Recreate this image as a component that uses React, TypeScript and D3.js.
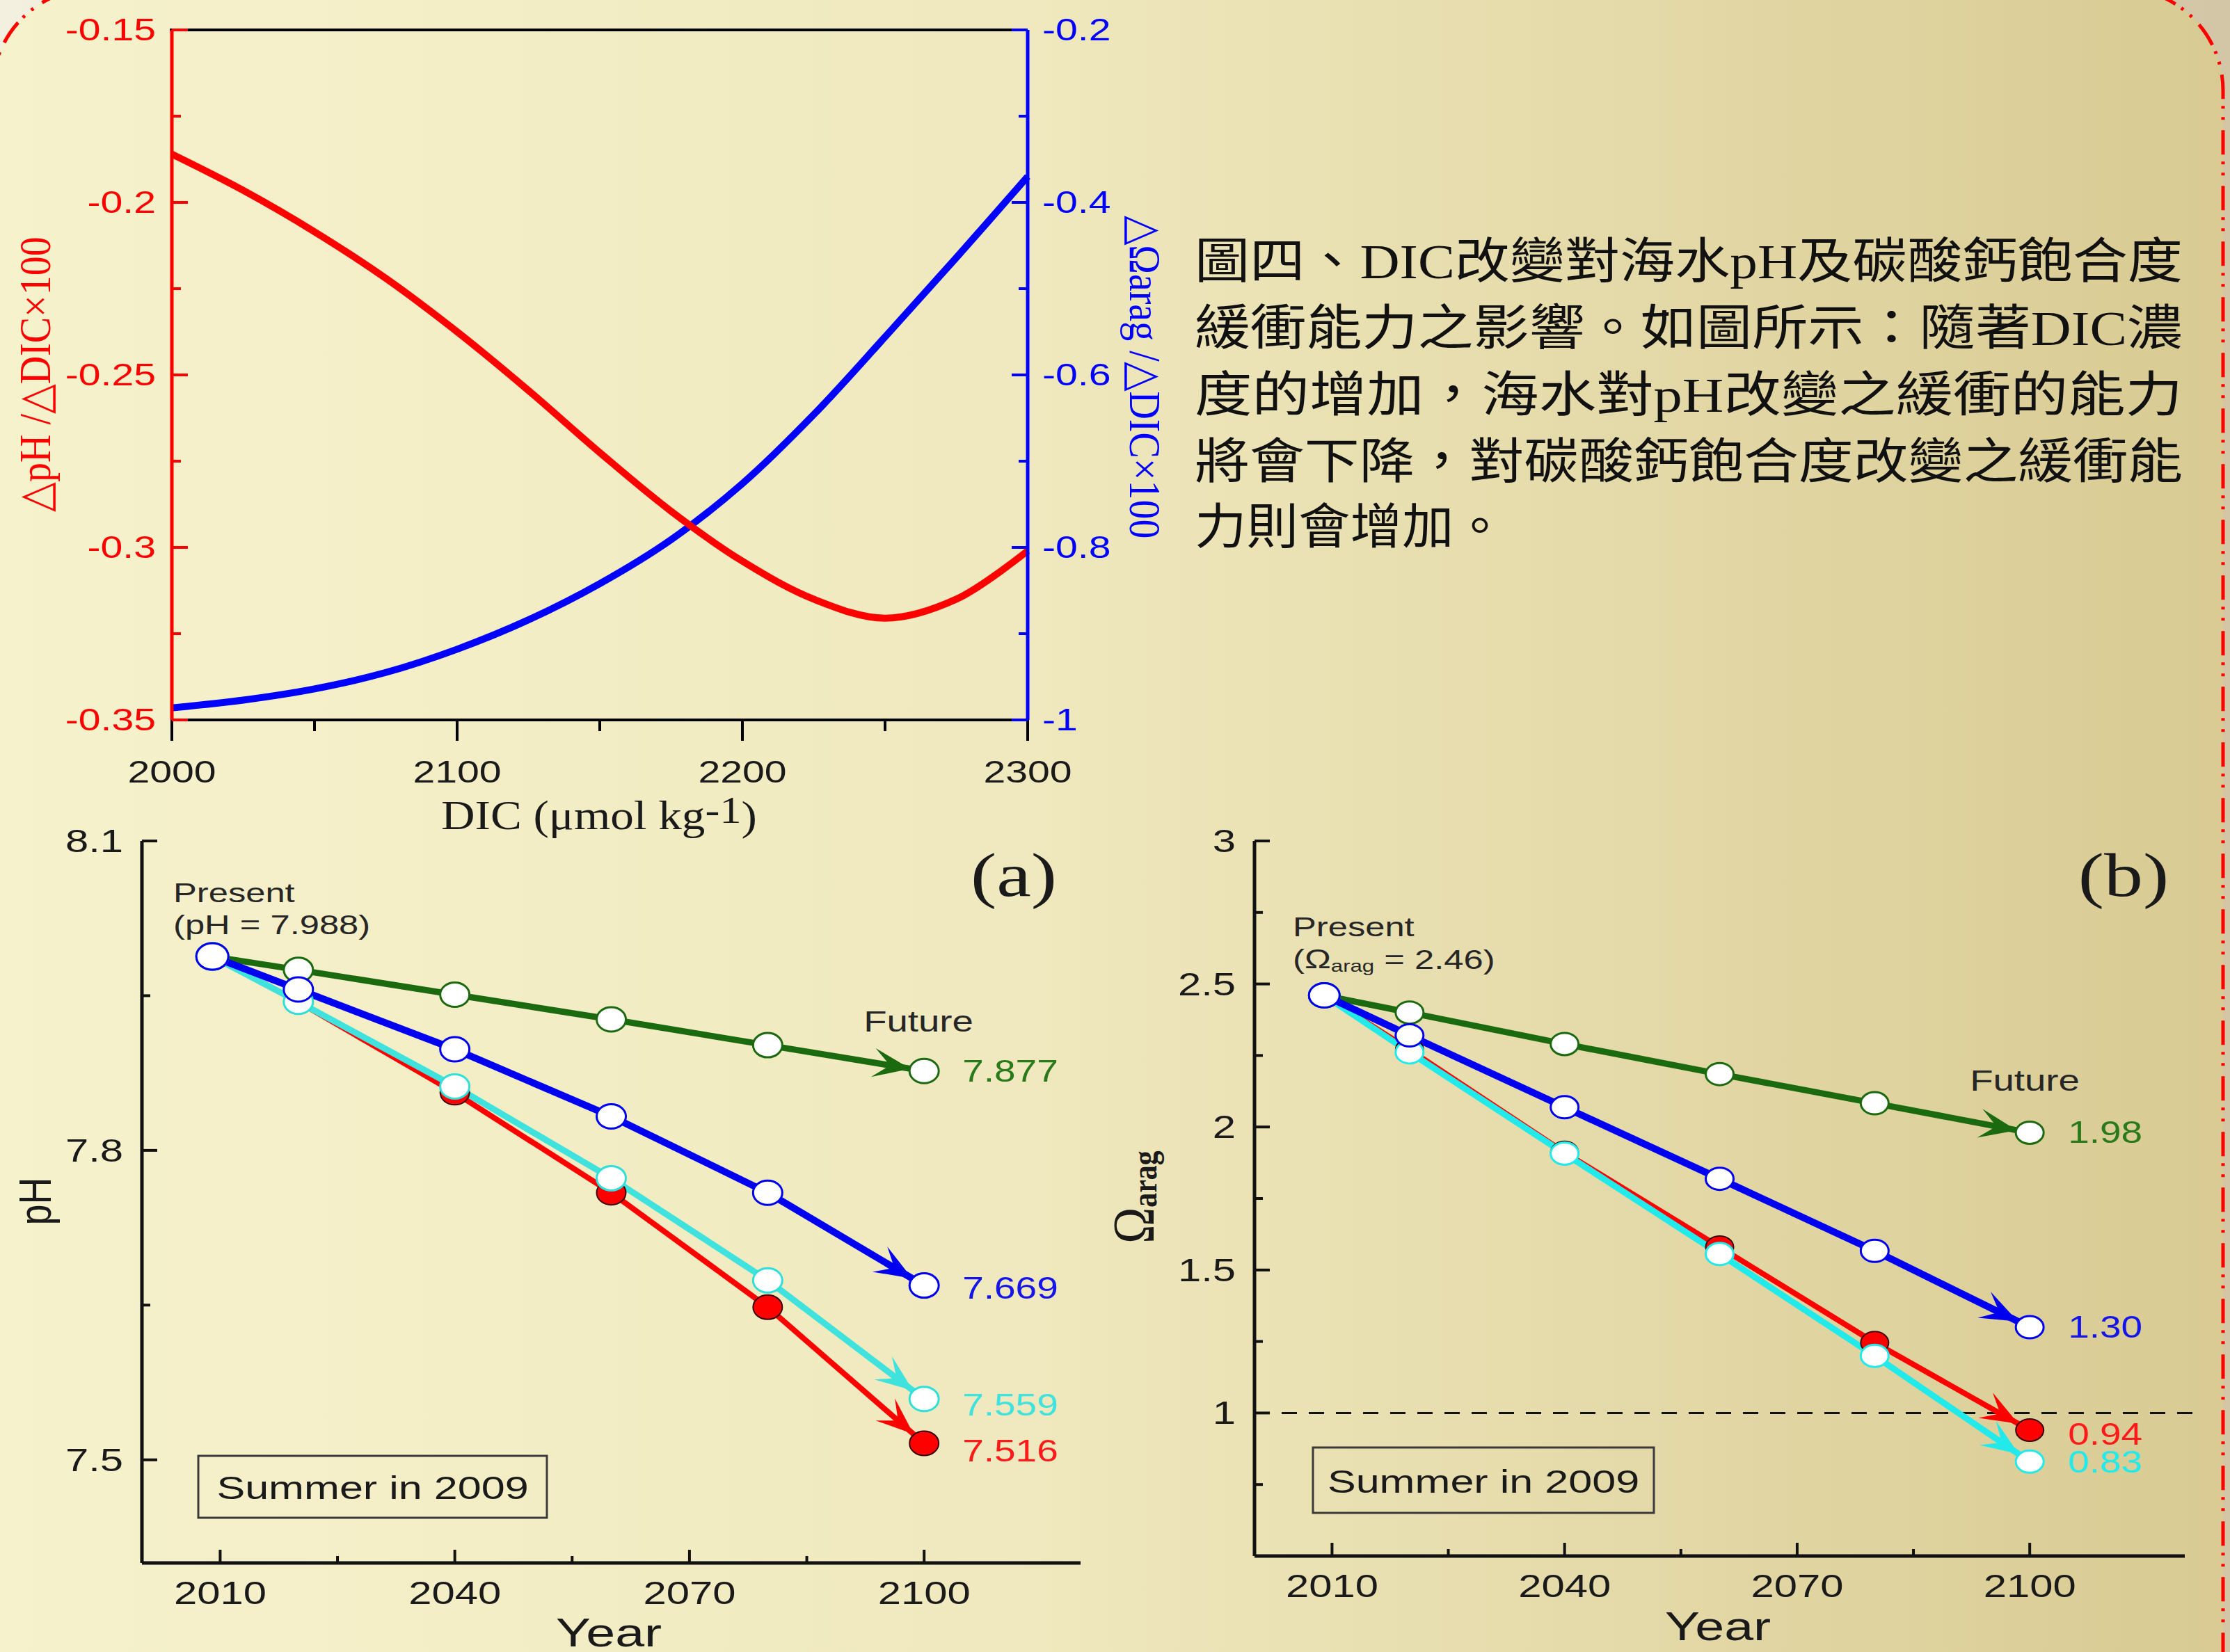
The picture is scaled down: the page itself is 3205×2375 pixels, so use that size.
import React from 'react';
import * as d3 from 'd3';

const W = 3205;
const H = 2375;
const SANS = "'Liberation Sans', Arial, sans-serif";
const SERIF = "'Liberation Serif', 'Times New Roman', serif";
const CJK = "'Liberation Serif', 'Noto Sans CJK TC', serif";
const SX = 1.3; // the slide picture is stretched sideways
const INK = '#1a1a1a';

// ---- top chart: buffer factors vs DIC ----
const dic = [2000, 2025, 2050, 2075, 2100, 2125, 2150, 2175, 2200, 2225, 2250, 2275, 2300];
const dpHdDIC = [-0.186, -0.1965, -0.2085, -0.222, -0.2375, -0.2545, -0.2725, -0.2895, -0.304, -0.315, -0.3205, -0.315, -0.301];
const dOmegadDIC = [-0.986, -0.977, -0.964, -0.945, -0.918, -0.884, -0.842, -0.791, -0.726, -0.646, -0.556, -0.464, -0.37];
const dicTicks = [2000, 2100, 2200, 2300];
const dicMinorTicks = [2050, 2150, 2250];
const phBufTicks = [-0.15, -0.2, -0.25, -0.3, -0.35];
const phBufMinor = [-0.175, -0.225, -0.275, -0.325];
const omBufTicks = [-0.2, -0.4, -0.6, -0.8, -1];
const omBufMinor = [-0.3, -0.5, -0.7, -0.9];

// ---- bottom panels: projections ----
const years = [2009, 2020, 2040, 2060, 2080, 2100];
const yearTicks = [2010, 2040, 2070, 2100];
const yearMinorTicks = [2025, 2055, 2085];

const phRed = [7.988, 7.944, 7.856, 7.759, 7.648, 7.516];
const phCyan = [7.988, 7.944, 7.862, 7.773, 7.674, 7.559];
const phGreen = [7.988, 7.975, 7.951, 7.927, 7.902, 7.877];
const phBlue = [7.988, 7.956, 7.898, 7.833, 7.759, 7.669];
const phTicks = [8.1, 7.8, 7.5];
const phMinorTicks = [7.95, 7.65];

const omRed = [2.46, 2.27, 1.911, 1.58, 1.246, 0.94];
const omCyan = [2.46, 2.261, 1.907, 1.556, 1.2, 0.83];
const omGreen = [2.46, 2.4, 2.29, 2.185, 2.083, 1.98];
const omBlue = [2.46, 2.32, 2.069, 1.819, 1.567, 1.3];
const omTicks = [3, 2.5, 2, 1.5, 1];
const omMinorTicks = [2.75, 2.25, 1.75, 1.25, 0.75];

const captionLines = [
  '圖四、DIC改變對海水pH及碳酸鈣飽合度',
  '緩衝能力之影響。如圖所示：隨著DIC濃',
  '度的增加，海水對pH改變之緩衝的能力',
  '將會下降，對碳酸鈣飽合度改變之緩衝能',
  '力則會增加。',
];

const Txt = ({ x, y, size, sx = SX, rot = 0, anchor = 'start', fill = INK, family = SANS, weight, children }: any) => (
  <text
    transform={`translate(${x},${y}) scale(${sx},1)` + (rot ? ` rotate(${rot})` : '')}
    textAnchor={anchor}
    dominantBaseline="central"
    fontSize={size}
    fill={fill}
    fontFamily={family}
    fontWeight={weight}
  >
    {children}
  </text>
);

function BufferChart() {
  const L = 247, R = 1477, T = 43, B = 1035;
  const x = d3.scaleLinear().domain([2000, 2300]).range([L, R]);
  const yL = d3.scaleLinear().domain([-0.35, -0.15]).range([B, T]);
  const yR = d3.scaleLinear().domain([-1, -0.2]).range([B, T]);
  const lineL = d3.line<number>().x((_, i) => x(dic[i])).y(d => yL(d)).curve(d3.curveCatmullRom.alpha(0.5));
  const lineR = d3.line<number>().x((_, i) => x(dic[i])).y(d => yR(d)).curve(d3.curveCatmullRom.alpha(0.5));
  const red = '#FF0000';
  const blue = '#0000FF';

  return (
    <g>
      <path d={lineR(dOmegadDIC) || ''} fill="none" stroke={blue} strokeWidth={10} />
      <path d={lineL(dpHdDIC) || ''} fill="none" stroke={red} strokeWidth={10} />

      <line x1={L - 3} x2={R} y1={T} y2={T} stroke="#000" strokeWidth={4} />
      <line x1={L} x2={R} y1={B} y2={B} stroke="#000" strokeWidth={4} />
      {dicTicks.map(d => (
        <g key={d}>
          <line x1={x(d)} x2={x(d)} y1={B} y2={B + 30} stroke="#000" strokeWidth={4} />
          <Txt x={x(d)} y={1110} size={44} anchor="middle">{d}</Txt>
        </g>
      ))}
      {dicMinorTicks.map(d => (
        <line key={d} x1={x(d)} x2={x(d)} y1={B} y2={B + 16} stroke="#000" strokeWidth={4} />
      ))}

      <line x1={L} x2={L} y1={T} y2={B} stroke={red} strokeWidth={5} />
      {phBufTicks.map(v => (
        <g key={v}>
          <line x1={L} x2={L + 23} y1={yL(v)} y2={yL(v)} stroke={red} strokeWidth={4} />
          <Txt x={224} y={yL(v)} size={44} anchor="end" fill={red}>{String(v)}</Txt>
        </g>
      ))}
      {phBufMinor.map(v => (
        <line key={v} x1={L} x2={L + 13} y1={yL(v)} y2={yL(v)} stroke={red} strokeWidth={4} />
      ))}

      <line x1={R} x2={R} y1={T} y2={B} stroke={blue} strokeWidth={5} />
      {omBufTicks.map(v => (
        <g key={v}>
          <line x1={R - 23} x2={R} y1={yR(v)} y2={yR(v)} stroke={blue} strokeWidth={4} />
          <Txt x={1498} y={yR(v)} size={44} fill={blue}>{String(v)}</Txt>
        </g>
      ))}
      {omBufMinor.map(v => (
        <line key={v} x1={R - 13} x2={R} y1={yR(v)} y2={yR(v)} stroke={blue} strokeWidth={4} />
      ))}

      <Txt x={861} y={1172} size={60} sx={1.12} anchor="middle" family={SERIF}>
        DIC (μmol kg<tspan dy={-8} fontSize={56}>-1</tspan><tspan dy={8}>)</tspan>
      </Txt>
      <Txt x={50} y={538} size={56} sx={1.15} rot={-90} anchor="middle" family={SERIF} fill={red}>
        △pH /△DIC×100
      </Txt>
      <Txt x={1646} y={542} size={56} sx={1.15} rot={90} anchor="middle" family={SERIF} fill={blue}>
        △Ωarag /△DIC×100
      </Txt>
    </g>
  );
}

function Caption() {
  const x0 = 1717;
  const full = 1420;
  const ys = [376, 472, 568, 664, 758];
  return (
    <g>
      {captionLines.map((t, i) => (
        <text
          key={i}
          x={x0}
          y={ys[i]}
          fontSize={70}
          fontFamily={CJK}
          fill="#111"
          dominantBaseline="central"
          textLength={i < 4 ? full : 447}
          lengthAdjust="spacingAndGlyphs"
        >
          {t}
        </text>
      ))}
    </g>
  );
}

function arrowHead(p1: number[], p2: number[], gap: number, len: number, half: number) {
  const dx = p2[0] - p1[0], dy = p2[1] - p1[1];
  const n = Math.hypot(dx, dy);
  const ux = dx / n, uy = dy / n;
  const nx = -uy, ny = ux;
  const tx = p2[0] - ux * gap, ty = p2[1] - uy * gap;
  const bx = tx - ux * len, by = ty - uy * len;
  const mx = tx - ux * len * 0.55, my = ty - uy * len * 0.55;
  return `M${tx},${ty}L${bx + nx * half},${by + ny * half}L${mx},${my}L${bx - nx * half},${by - ny * half}Z`;
}

function Panel(p: any) {
  const x = d3.scaleLinear().domain([2000, 2120]).range([p.L, p.R]);
  const y = d3.scaleLinear().domain(p.yDomain).range([p.B, p.T]);
  const line = d3.line<number>().x((_, i) => x(years[i])).y(d => y(d));
  const last = years.length - 1;

  return (
    <g>
      {p.refLine != null && (
        <line x1={p.L} x2={p.R + 20} y1={y(p.refLine)} y2={y(p.refLine)} stroke="#111" strokeWidth={3} strokeDasharray="22 17" />
      )}
      {p.series.map((s: any) => {
        const p1 = [x(years[last - 1]), y(s.values[last - 1])];
        const p2 = [x(years[last]), y(s.values[last])];
        return (
          <g key={s.key}>
            <path d={line(s.values) || ''} fill="none" stroke={s.color} strokeWidth={s.width} strokeLinejoin="round" />
            <path d={arrowHead(p1, p2, p.rx - 1, 54, 21)} fill={s.color} />
          </g>
        );
      })}
      {p.series.map((s: any) =>
        s.values.map((v: number, i: number) => (
          <ellipse
            key={s.key + i}
            cx={x(years[i])}
            cy={y(v)}
            rx={i === 0 ? p.rx + 2 : p.rx}
            ry={i === 0 ? p.ry + 1.5 : p.ry}
            fill={s.fill}
            stroke={s.ring}
            strokeWidth={s.fill === '#fff' ? 3 : 2}
          />
        ))
      )}
      {p.series.map((s: any) => (
        <Txt key={'l' + s.key} x={x(years[last]) + 55} y={y(s.values[last]) + s.dy} size={44} sx={1.25} fill={s.text}>
          {s.values[last].toFixed(p.digits)}
        </Txt>
      ))}

      <line x1={p.L} x2={p.R} y1={p.B} y2={p.B} stroke="#111" strokeWidth={5} />
      <line x1={p.L} x2={p.L} y1={p.T} y2={p.B} stroke="#111" strokeWidth={5} />
      {yearTicks.map(t => (
        <g key={t}>
          <line x1={x(t)} x2={x(t)} y1={p.B} y2={p.B - 19} stroke="#111" strokeWidth={4} />
          <Txt x={x(t)} y={p.tickY} size={46} anchor="middle">{t}</Txt>
        </g>
      ))}
      {yearMinorTicks.map(t => (
        <line key={t} x1={x(t)} x2={x(t)} y1={p.B} y2={p.B - 10} stroke="#111" strokeWidth={4} />
      ))}
      {p.yTicks.map((v: number) => (
        <g key={v}>
          <line x1={p.L} x2={p.L + 22} y1={y(v)} y2={y(v)} stroke="#111" strokeWidth={4} />
          <Txt x={p.L - 27} y={y(v)} size={46} anchor="end">{String(v)}</Txt>
        </g>
      ))}
      {p.yMinor.map((v: number) => (
        <line key={v} x1={p.L} x2={p.L + 12} y1={y(v)} y2={y(v)} stroke="#111" strokeWidth={4} />
      ))}

      <Txt x={p.tagX} y={p.tagY} size={88} sx={1.27} anchor="middle" family={SERIF}>{p.tag}</Txt>
      <Txt x={p.presentX} y={p.presentY} size={39} fill="#262626">Present</Txt>
      <Txt x={p.presentX} y={p.presentY + 46} size={39} fill="#262626">{p.presentLabel}</Txt>
      <Txt x={p.futureX} y={p.futureY} size={42} anchor="middle" fill="#262626">Future</Txt>
      <rect x={p.box[0]} y={p.box[1]} width={p.box[2]} height={p.box[3]} fill="none" stroke="#3a3a3a" strokeWidth={3} />
      <Txt x={p.box[0] + p.box[2] / 2} y={p.box[1] + p.box[3] / 2 + 2} size={47} anchor="middle">Summer in 2009</Txt>
      <Txt x={p.yearX} y={p.yearY} size={58} anchor="middle">Year</Txt>
      {p.yLabel}
    </g>
  );
}

const red = { key: 'red', color: '#FF0000', fill: '#FF0000', ring: '#3a0000', text: '#FF1A1A' };
const cyan = { key: 'cyan', color: '#3FE2DC', fill: '#fff', ring: '#2FE0DA', text: '#3FE2DC' };
const green = { key: 'green', color: '#1C6A10', fill: '#fff', ring: '#1C6A10', text: '#2A7A1C' };
const blue = { key: 'blue', color: '#0000F0', fill: '#fff', ring: '#0000F0', text: '#1515E8' };

export default function App() {
  const phSeries = [
    { ...red, values: phRed, width: 8, dy: 11 },
    { ...cyan, values: phCyan, width: 9, dy: 9 },
    { ...green, values: phGreen, width: 9, dy: 0 },
    { ...blue, values: phBlue, width: 10, dy: 4 },
  ];
  const omSeries = [
    { ...red, values: omRed, width: 8, dy: 6 },
    { ...cyan, color: '#22EAEA', ring: '#22EAEA', text: '#22EAEA', values: omCyan, width: 9, dy: 1 },
    { ...green, values: omGreen, width: 9, dy: 0 },
    { ...blue, values: omBlue, width: 10, dy: 0 },
  ];

  return (
    <svg width={W} height={H} viewBox={`0 0 ${W} ${H}`} style={{ position: 'absolute', left: 0, top: 0, display: 'block' }}>
      <defs>
        <linearGradient id="outer" gradientUnits="userSpaceOnUse" x1={0} x2={W} y1={0} y2={0}>
          <stop offset="0" stopColor="#F4F0E0" />
          <stop offset="1" stopColor="#D2C6A6" />
        </linearGradient>
        <linearGradient id="inner" gradientUnits="userSpaceOnUse" x1={0} x2={W} y1={0} y2={0}>
          <stop offset="0" stopColor="#F6F2CC" />
          <stop offset="0.45" stopColor="#F0E9BF" />
          <stop offset="1" stopColor="#D8CA92" />
        </linearGradient>
      </defs>
      <rect width={W} height={H} fill="url(#outer)" />
      <rect x={-11} y={-17} width={3206} height={2600} rx={147} fill="url(#inner)" stroke="#FF0000" strokeWidth={5} strokeDasharray="35 10 4 12 4 15" />

      <BufferChart />
      <Caption />

      <Panel
        L={204} R={1553} T={1209} B={2247}
        yDomain={[7.4, 8.1]} yTicks={phTicks} yMinor={phMinorTicks}
        series={phSeries} digits={3} rx={21} ry={17.5}
        tickY={2290} tag="(a)" tagX={1457} tagY={1258}
        presentX={249} presentY={1284} presentLabel={`(pH = ${phGreen[0].toFixed(3)})`}
        futureX={1320} futureY={1468}
        box={[285, 2093, 501, 89]} yearX={875} yearY={2347}
        yLabel={<Txt x={51} y={1727} size={54} sx={1.2} rot={-90} anchor="middle">pH</Txt>}
      />
      <Panel
        L={1803} R={3140} T={1209} B={2237}
        yDomain={[0.5, 3]} yTicks={omTicks} yMinor={omMinorTicks} refLine={1}
        series={omSeries} digits={2} rx={20} ry={16}
        tickY={2280} tag="(b)" tagX={3052} tagY={1258}
        presentX={1858} presentY={1333}
        presentLabel={<>(Ω<tspan fontSize={24} dy={9}>arag</tspan><tspan dy={-9}> = {omGreen[0].toFixed(2)})</tspan></>}
        futureX={2910} futureY={1553}
        box={[1887, 2081, 490, 94]} yearX={2469} yearY={2338}
        yLabel={
          <Txt x={1630} y={1721} size={70} sx={1.2} rot={-90} anchor="middle" family={SERIF}>
            Ω<tspan fontSize={42} fontWeight="bold" dy={12}>arag</tspan>
          </Txt>
        }
      />
    </svg>
  );
}
